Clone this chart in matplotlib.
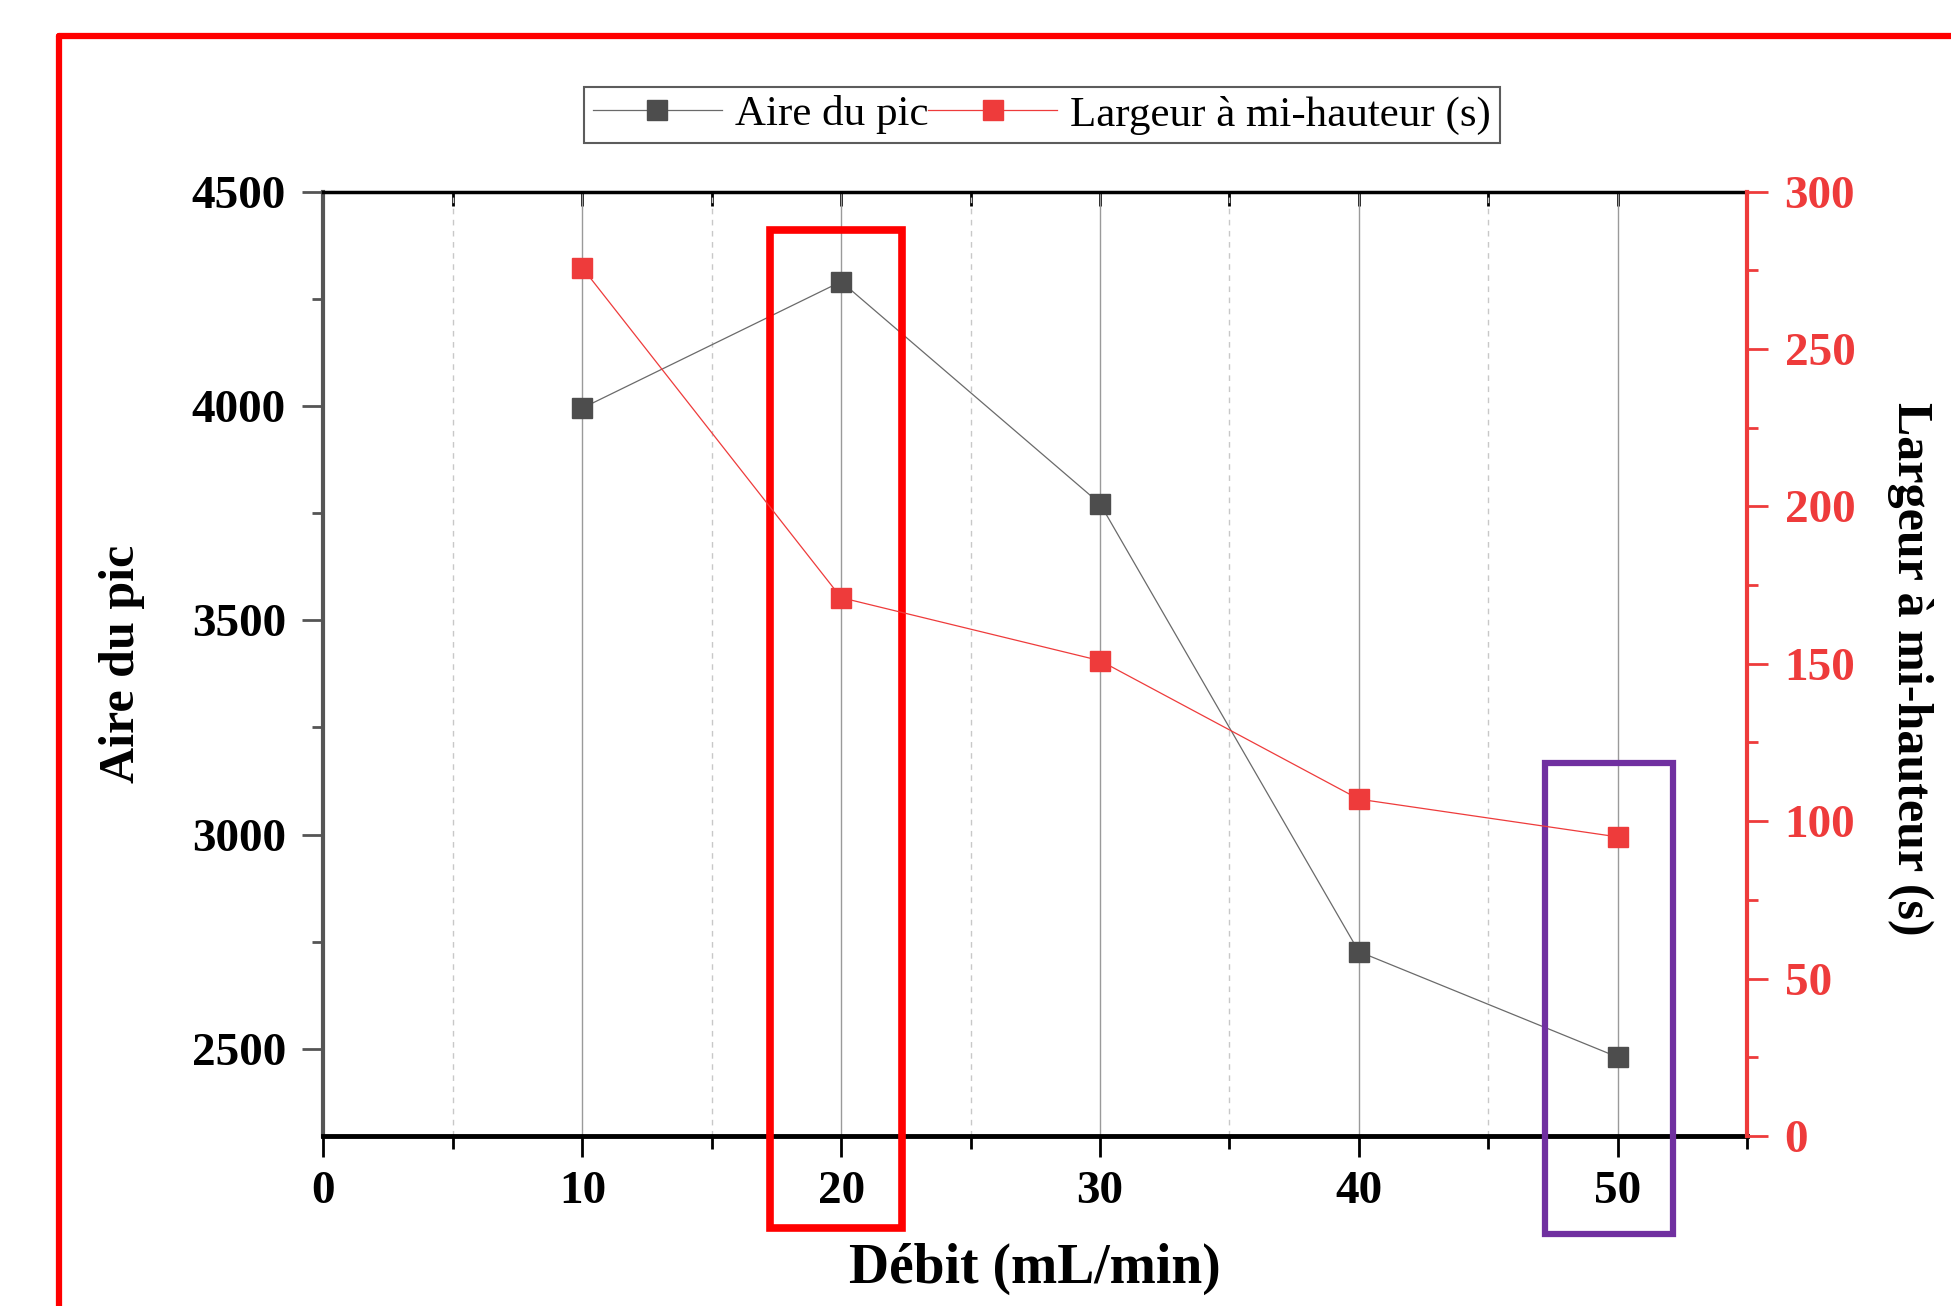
import matplotlib
matplotlib.use("Agg")
import matplotlib.pyplot as plt
from matplotlib.patches import Rectangle
from matplotlib.lines import Line2D
from matplotlib.ticker import MultipleLocator

plt.rcParams['font.family'] = ['Liberation Serif', 'DejaVu Serif']

# ---- data --------------------------------------------------------------
debit = [10, 20, 30, 40, 50]                      # mL/min
aire = [3995, 4290, 3772, 2727, 2481]             # Aire du pic
largeur = [275.8, 171.0, 151.0, 107.0, 95.0]      # Largeur a mi-hauteur (s)

# highlight boxes (data coords of the left axis): x0, x1, y0, y1
box_20 = (17.25, 22.35, 2082, 4410)
box_50 = (47.2, 52.15, 2068, 3168)

RED = '#EE3B3B'
DARK = '#4D4D4D'

fig = plt.figure(figsize=(19.51, 13.06), dpi=100)
ax = fig.add_axes([0.1658, 0.1302, 0.7297, 0.7231])
ax2 = ax.twinx()

# grid (vertical only)
ax.set_axisbelow(True)
ax.xaxis.set_major_locator(MultipleLocator(10))
ax.xaxis.set_minor_locator(MultipleLocator(5))
ax.grid(axis='x', which='major', color='#9a9a9a', lw=1.0, ls='-')
ax.grid(axis='x', which='minor', color='#c8c8c8', lw=1.0, ls=(0, (4, 4)))

l1, = ax.plot(debit, aire, '-', color='#6a6a6a', lw=0.9, marker='s', ms=15,
              mfc=DARK, mec=DARK, label='Aire du pic', zorder=3)
l2, = ax2.plot(debit, largeur, '-', color=RED, lw=0.9, marker='s', ms=15,
               mfc=RED, mec=RED, label='Largeur à mi-hauteur (s)', zorder=3)

ax.set_xlim(0, 55)
ax.set_ylim(2297, 4500)
ax2.set_ylim(0, 300)

ax.yaxis.set_major_locator(MultipleLocator(500))
ax.yaxis.set_minor_locator(MultipleLocator(250))
ax2.yaxis.set_major_locator(MultipleLocator(50))
ax2.yaxis.set_minor_locator(MultipleLocator(25))

TICK_FS = 34
ax.tick_params(axis='x', which='major', direction='out', length=15, width=2,
               pad=10, labelsize=TICK_FS, color='black')
ax.tick_params(axis='x', which='minor', direction='out', length=9, width=2, color='black')
ax.tick_params(axis='y', which='major', direction='out', length=15, width=2,
               pad=12, labelsize=TICK_FS, color='#555555')
ax.tick_params(axis='y', which='minor', direction='out', length=8, width=2, color='#555555')
ax2.tick_params(axis='y', which='major', direction='out', length=15, width=2,
                pad=12, labelsize=TICK_FS, color=RED, labelcolor=RED)
ax2.tick_params(axis='y', which='minor', direction='out', length=8, width=2, color=RED)
for lab in ax.get_xticklabels() + ax.get_yticklabels() + ax2.get_yticklabels():
    lab.set_fontweight('bold')

# top ticks pointing inward
top = ax.secondary_xaxis('top')
top.xaxis.set_major_locator(MultipleLocator(5))
top.tick_params(axis='x', which='major', direction='in', length=10, width=2,
                labeltop=False, color='black')
top.spines['top'].set_visible(False)

# spines
for s in ['left', 'right', 'top', 'bottom']:
    ax2.spines[s].set_visible(False)
ax2.spines['right'].set_visible(True)
ax2.spines['right'].set_color(RED)
ax2.spines['right'].set_linewidth(3)
ax.spines['right'].set_visible(False)
ax.spines['left'].set_color('#555555')
ax.spines['left'].set_linewidth(3)
ax.spines['bottom'].set_color('black')
ax.spines['bottom'].set_linewidth(3.5)
ax.spines['top'].set_color('black')
ax.spines['top'].set_linewidth(2.5)

# axis labels
ax.set_xlabel('Débit (mL/min)', fontsize=40, fontweight='bold')
ax.xaxis.label.set_verticalalignment('center')
ax.xaxis.set_label_coords(0.5, -0.141)
ax.set_ylabel('Aire du pic', fontsize=36, fontweight='bold')
ax.yaxis.label.set_verticalalignment('center')
ax.yaxis.set_label_coords(-0.1416, 0.5)
ax2.set_ylabel('Largeur à mi-hauteur (s)', fontsize=36, fontweight='bold',
               rotation=270)
ax2.yaxis.label.set_verticalalignment('center')
ax2.yaxis.set_label_coords(1.1145, 0.495)

# legend
leg = fig.legend(handles=[l1, l2], loc='center', bbox_to_anchor=(0.534, 0.912),
                 ncol=2, fontsize=31, frameon=True, fancybox=False,
                 edgecolor='#333333', handlelength=3.0, handletextpad=0.3,
                 columnspacing=0.0, borderpad=0.2, borderaxespad=0)
leg.get_frame().set_linewidth(1.5)

# highlight boxes
for (x0, x1, y0, y1), col, lw in [(box_20, '#FF0000', 5.5), (box_50, '#7030A0', 4.5)]:
    ax.add_patch(Rectangle((x0, y0), x1 - x0, y1 - y0, fill=False, edgecolor=col,
                           lw=lw, clip_on=False, zorder=6))

# outer red frame (top and left edges visible)
fig.add_artist(Line2D([0.0302, 1.0], [0.9728, 0.9728], color='#FF0000', lw=4.5,
                      transform=fig.transFigure, solid_capstyle='round'))
fig.add_artist(Line2D([0.0302, 0.0302], [0.0, 0.9728], color='#FF0000', lw=4.5,
                      transform=fig.transFigure, solid_capstyle='round'))

fig.savefig('out.png', dpi=100)
